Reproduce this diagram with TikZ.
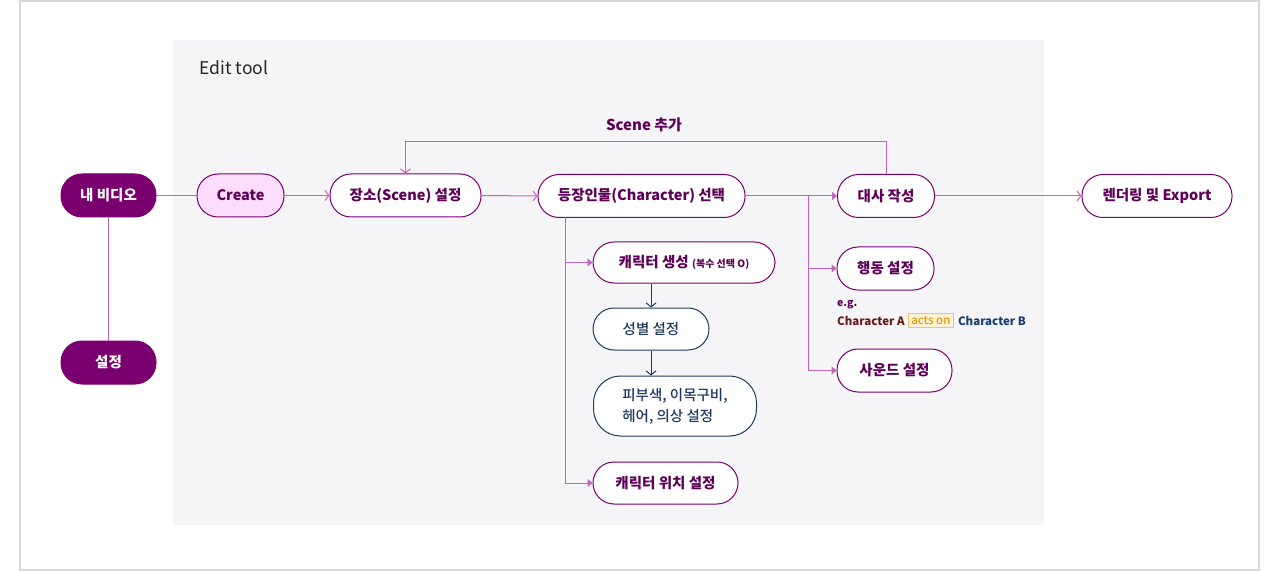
\documentclass[tikz,border=0pt]{standalone}
\usepackage{fontspec}
\setmainfont{Noto Sans CJK KR}
\newfontfamily\medfont{Noto Sans CJK KR Medium}
\usetikzlibrary{arrows.meta}
\definecolor{pdark}{HTML}{7A006F}
\definecolor{ptext}{HTML}{5E0058}
\definecolor{plink}{HTML}{C462C2}
\definecolor{ppink}{HTML}{FDDDFB}
\definecolor{navy}{HTML}{1E3A5F}
\definecolor{panel}{HTML}{F5F5F8}
\definecolor{frame}{HTML}{D9D9D9}
\definecolor{maroon}{HTML}{6B1818}
\definecolor{amber}{HTML}{E09A10}
\definecolor{amberbg}{HTML}{FDF2D6}
\definecolor{amberln}{HTML}{F0C46A}
\definecolor{bnavy}{HTML}{163C74}
\tikzset{
  pill/.style={draw=pdark, line width=1pt, rounded corners=21pt, minimum height=43pt,
    inner sep=0pt, text=ptext, font=\fontsize{14.5}{17}\selectfont\bfseries},
  pillfill/.style={pill, fill=pdark, text=white},
  npill/.style={pill, draw=navy, text=navy},
  link/.style={draw=plink, line width=1pt},
  openarr/.style={link, -{Straight Barb[length=4pt,width=10pt]}},
  triarr/.style={link, -{Triangle[length=5pt,width=8pt]}},
  navyarr/.style={draw=navy, line width=1pt, -{Straight Barb[length=4pt,width=10pt]}},
}
\begin{document}
\begin{tikzpicture}[x=1pt,y=-1pt]
\useasboundingbox (0,0) rectangle (1280,572);
\draw[frame, line width=1.5pt, fill=white] (20,1) rectangle (1259,570);
\fill[panel] (173,40) rectangle (1044,525);
\node[anchor=west, font=\fontsize{17.5}{20}\selectfont, text=black!85] (title) at (196,68) {Edit tool};

% nodes
\node[pillfill, minimum width=95pt] (vid) at (108.5,195.5) {내 비디오};
\node[pillfill, minimum width=95pt] (set) at (108.5,362.5) {설정};
\node[pill, fill=ppink, minimum width=87pt] (create) at (240.5,195.5) {Create};
\node[pill, fill=white, minimum width=151pt] (scene) at (405.5,195.5) {장소(Scene) 설정};
\node[pill, fill=white, minimum width=207pt] (char) at (641.5,196) {등장인물(Character) 선택};
\node[pill, fill=white, minimum width=97pt] (dialog) at (886,196) {대사 작성};
\node[pill, fill=white, minimum width=150pt] (render) at (1157,196) {렌더링 및 Export};
\node[pill, fill=white, minimum width=182pt, minimum height=41pt] (cgen) at (684,262.5) {캐릭터 생성 {\fontsize{10}{12}\selectfont (복수 선택 O)}};
\node[npill, fill=white, minimum width=116pt, minimum height=42pt, font=\fontsize{14.5}{17}\selectfont\medfont] (gender) at (651,329) {성별 설정};
\node[npill, fill=white, minimum width=163pt, minimum height=60pt, rounded corners=27pt, align=left, font=\fontsize{14.5}{21}\selectfont\medfont] (skin) at (675,406) {피부색, 이목구비,\\헤어, 의상 설정};
\node[pill, fill=white, minimum width=145pt, minimum height=42pt] (cpos) at (665.5,483) {캐릭터 위치 설정};
\node[pill, fill=white, minimum width=97pt] (action) at (885.5,268.5) {행동 설정};
\node[pill, fill=white, minimum width=115pt] (sound) at (894.5,370.5) {사운드 설정};

% annotation
\node[anchor=west, inner sep=0pt, text=ptext, font=\fontsize{10.5}{12}\selectfont\bfseries] (eg) at (837,305) {e.g.};
\node[anchor=west, inner sep=0pt, text=maroon, font=\fontsize{11.5}{13}\selectfont\bfseries] (ca) at (837,320.5) {Character A};
\node[anchor=west, draw=amberln, fill=amberbg, line width=0.8pt, inner xsep=3pt, inner ysep=3pt, text=amber, font=\fontsize{11.5}{13}\selectfont\medfont] (acts) at ([xshift=3pt]ca.east) {acts on};
\node[anchor=west, inner sep=0pt, text=bnavy, font=\fontsize{11.5}{13}\selectfont\bfseries] (cb) at ([xshift=4pt]acts.east) {Character B};

% connectors
\draw[link] (vid.east) -- (create.west);
\draw[link] (vid.south) -- (set.north);
\draw[openarr] (create.east) -- (scene.west);
\draw[openarr] (scene.east) -- (char.west);
\coordinate (loopR) at (886,142);
\coordinate (loopL) at (405.5,142);
\draw[openarr] (dialog.north) -- (loopR) -- (loopL) -- (scene.north);
\node[text=ptext, font=\fontsize{15}{17}\selectfont\bfseries] (sceneadd) at (644,125) {Scene 추가};
\draw[triarr] (char.east) -- (dialog.west);
\coordinate (bx) at (808,196);
\draw[triarr] (bx) |- (action.west);
\draw[triarr] (bx) |- (sound.west);
\coordinate (cx) at (565,217.5);
\draw[triarr] (cx) |- (cgen.west);
\draw[triarr] (cx) |- (cpos.west);
\draw[navyarr] (gender.north |- cgen.south) -- (gender.north);
\draw[navyarr] (gender.south) -- (gender.south |- skin.north);
\draw[openarr] (dialog.east) -- (render.west);
\end{tikzpicture}
\end{document}
